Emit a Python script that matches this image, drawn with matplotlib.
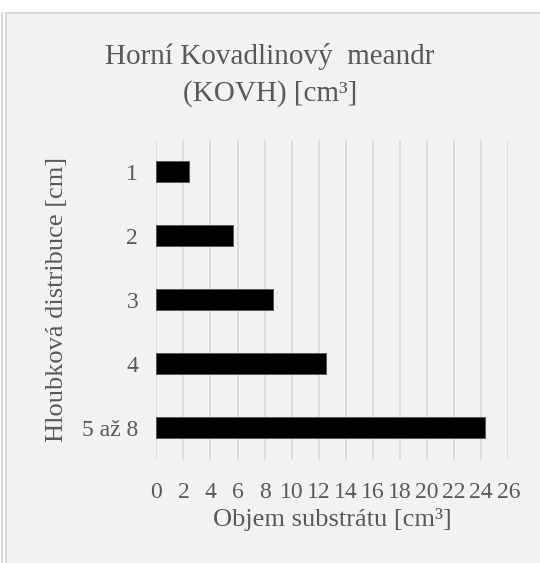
import matplotlib
matplotlib.use("Agg")
import matplotlib.pyplot as plt
from matplotlib.patches import Rectangle
from matplotlib.lines import Line2D

# data
categories = ["1", "2", "3", "4", "5 až 8"]
values = [2.45, 5.7, 8.65, 12.5, 24.3]
xticks = list(range(0, 27, 2))

plt.rcParams['font.family'] = ['Liberation Serif', 'DejaVu Serif']
text_col = '#595959'
grid_col = '#d9d9d9'

fig = plt.figure(figsize=(5.40, 5.63), dpi=100)
fig.patch.set_facecolor('white')

# chart panel background, border runs off the right and bottom edges
fig.add_artist(Rectangle((5.5 / 540, -0.05), 1.1, 1.05 - 12.5 / 563,
                         transform=fig.transFigure, facecolor='#f2f2f2',
                         edgecolor=grid_col, lw=1.5, zorder=-10))
fig.add_artist(Line2D([1.5 / 540, 1.5 / 540], [0, 1 - 12.5 / 563],
                      transform=fig.transFigure, color=grid_col, lw=1.5))

ax = fig.add_axes([156.3 / 540, 1 - 459.5 / 563, 352 / 540, 320 / 563])
ax.set_facecolor('none')

ypos = list(range(len(categories)))
ax.barh(ypos, values, height=0.34, color='black', edgecolor='#505050',
        linewidth=0.6, zorder=3)

ax.set_xlim(0, 26)
ax.set_ylim(len(categories) - 0.5, -0.5)
ax.set_xticks(xticks)
ax.set_xticklabels([str(t) for t in xticks])
ax.set_yticks(ypos)
ax.set_yticklabels(categories)

ax.grid(axis='x', color=grid_col, lw=1.2, zorder=0)
ax.set_axisbelow(True)
for s in ax.spines.values():
    s.set_visible(False)
ax.tick_params(length=0, labelsize=17, labelcolor=text_col)
ax.tick_params(axis='x', pad=16)
ax.tick_params(axis='y', pad=13)

ax.set_xlabel("Objem substrátu [cm³]", fontsize=19, color=text_col, labelpad=4)
ax.set_ylabel("Hloubková distribuce [cm]", fontsize=19, color=text_col, labelpad=10)

fig.text(0.5, 1 - 56 / 563, "Horní Kovadlinový  meandr", ha='center', va='center',
         fontsize=21, color=text_col)
fig.text(0.5, 1 - 94 / 563, "(KOVH) [cm³]", ha='center', va='center',
         fontsize=21, color=text_col)

fig.savefig("out.png", dpi=100)
